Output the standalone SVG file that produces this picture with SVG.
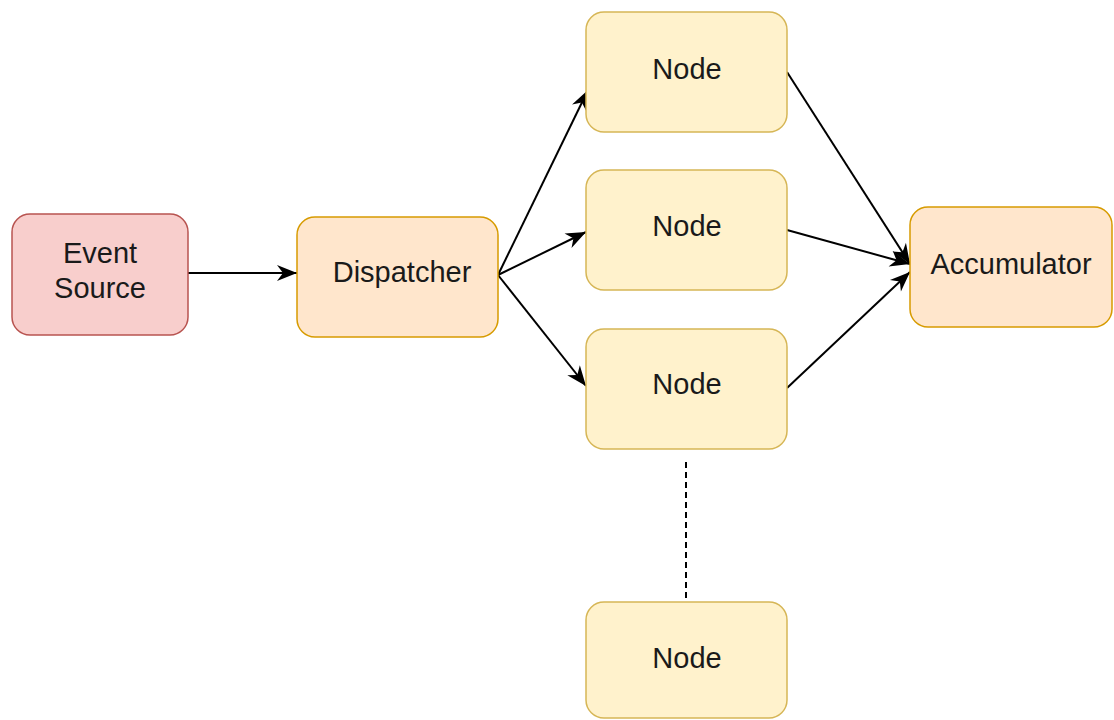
<svg xmlns="http://www.w3.org/2000/svg" width="1114" height="720" viewBox="0 0 1114 720">
  <style>
    .box { stroke-width: 1.5; }
    .red { fill: #f8cecc; stroke: #b85450; }
    .orange { fill: #ffe6cc; stroke: #d79b00; }
    .yellow { fill: #fff2cc; stroke: #d6b656; }
    .label { font-family: "Liberation Sans", Arial, sans-serif; font-size: 29px; fill: #1a1a1a; text-anchor: middle; }
    .edge { fill: none; stroke: #000; stroke-width: 2; }
    .dashed { fill: none; stroke: #000; stroke-width: 2; stroke-dasharray: 6 4; }
  </style>
  <defs>
    <!-- classic notched arrowhead, sized in user units -->
    <marker id="arrow" markerUnits="userSpaceOnUse" markerWidth="22" markerHeight="18" refX="20" refY="8" orient="auto" overflow="visible">
      <path d="M0,0 L20,8 L0,16 L6,8 Z" fill="#000"/>
    </marker>
  </defs>
  <rect width="1114" height="720" fill="#ffffff"/>

  <g id="connectors">
    <path class="edge" d="M188,273 L297,273" marker-end="url(#arrow)"/>
    <path class="edge" d="M498,275 L588,90" marker-end="url(#arrow)"/>
    <path class="edge" d="M498,275 L586,232" marker-end="url(#arrow)"/>
    <path class="edge" d="M498,275 L586,386" marker-end="url(#arrow)"/>
    <path class="edge" d="M787,72 L910,264" marker-end="url(#arrow)"/>
    <path class="edge" d="M787,230 L910,264" marker-end="url(#arrow)"/>
    <path class="edge" d="M787,388 L910,272" marker-end="url(#arrow)"/>
    <path class="dashed" d="M686,462 L686,602"/>
  </g>

  <g id="event-source">
    <rect class="box red" x="12" y="214" width="176" height="121" rx="18"/>
    <text class="label" x="100" y="263">Event</text>
    <text class="label" x="100" y="298">Source</text>
  </g>

  <g id="dispatcher">
    <rect class="box orange" x="297" y="217" width="201" height="120" rx="18"/>
    <text class="label" x="402" y="282">Dispatcher</text>
  </g>

  <g id="node-1">
    <rect class="box yellow" x="586" y="12" width="201" height="120" rx="18"/>
    <text class="label" x="687" y="79">Node</text>
  </g>

  <g id="node-2">
    <rect class="box yellow" x="586" y="170" width="201" height="120" rx="18"/>
    <text class="label" x="687" y="236">Node</text>
  </g>

  <g id="node-3">
    <rect class="box yellow" x="586" y="329" width="201" height="120" rx="18"/>
    <text class="label" x="687" y="394">Node</text>
  </g>

  <g id="node-4">
    <rect class="box yellow" x="586" y="602" width="201" height="116" rx="18"/>
    <text class="label" x="687" y="668">Node</text>
  </g>

  <g id="accumulator">
    <rect class="box orange" x="910" y="207" width="202" height="120" rx="18"/>
    <text class="label" x="1011" y="274">Accumulator</text>
  </g>
</svg>
